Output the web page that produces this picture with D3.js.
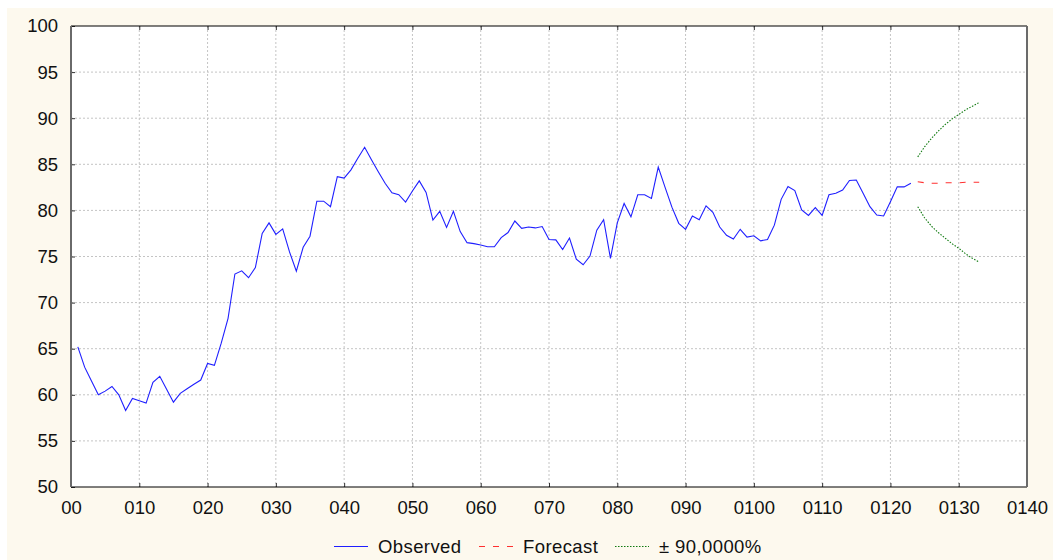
<!DOCTYPE html>
<html>
<head>
<meta charset="utf-8">
<script src="https://cdn.jsdelivr.net/npm/d3@7"></script>
<style>
  body { margin: 0; background: #ffffff; }
  svg { display: block; font-family: "Liberation Sans", Arial, sans-serif; }
</style>
</head>
<body>
<svg id="chart" width="1053" height="560"></svg>
<script>
// observed series, starting at t = 1
var observed = [
  65.2, 63.0, 61.5, 60.0, 60.4, 60.9, 60.0, 58.3, 59.6, 59.35,
  59.1, 61.35, 62.0, 60.6, 59.2, 60.15, 60.65, 61.15, 61.6, 63.4,
  63.2, 65.6, 68.3, 73.1, 73.45, 72.7, 73.8, 77.5, 78.65, 77.4,
  78.0, 75.5, 73.4, 76.0, 77.2, 81.0, 81.0, 80.4, 83.65, 83.5,
  84.4, 85.65, 86.85, 85.5, 84.2, 82.95, 81.9, 81.7, 80.9, 82.1,
  83.2, 81.95, 78.95, 79.9, 78.15, 79.9, 77.7, 76.5, 76.4, 76.25,
  76.05, 76.05, 77.05, 77.6, 78.85, 78.05, 78.2, 78.1, 78.25, 76.85,
  76.8, 75.75, 77.0, 74.7, 74.1, 75.05, 77.85, 79.0, 74.8, 78.65,
  80.75, 79.3, 81.7, 81.7, 81.3, 84.7, 82.5, 80.35, 78.6, 77.95,
  79.4, 79.0, 80.5, 79.8, 78.2, 77.3, 76.9, 77.95, 77.1, 77.25,
  76.7, 76.85, 78.4, 81.2, 82.6, 82.15, 80.05, 79.45, 80.3, 79.45,
  81.7, 81.85, 82.2, 83.25, 83.3, 81.85, 80.4, 79.5, 79.4, 80.95,
  82.55, 82.55, 82.95
];
var observedStart = 1;

// forecast + limits, t = 124 .. 133
var forecastStart = 124;
var forecast = [83.1, 83.0, 82.95, 82.95, 83.0, 83.0, 83.0, 83.05, 83.05, 83.05];
var upper    = [85.8, 86.9, 87.8, 88.6, 89.3, 89.9, 90.4, 90.9, 91.3, 91.7];
var lower    = [80.4, 79.2, 78.3, 77.6, 77.0, 76.4, 75.9, 75.3, 74.8, 74.4];

var xTicks = [0, 10, 20, 30, 40, 50, 60, 70, 80, 90, 100, 110, 120, 130, 140];
var xTickLabels = ["00", "010", "020", "030", "040", "050", "060", "070", "080", "090", "0100", "0110", "0120", "0130", "0140"];
var yTicks = [50, 55, 60, 65, 70, 75, 80, 85, 90, 95, 100];

var legendItems = [
  {title: "Observed", color: "#1f1fff", dash: null, x: 334},
  {title: "Forecast", color: "#ff3030", dash: "6,8", x: 479},
  {title: "\u00b1 90,0000%", color: "#107a10", dash: "1.5,1.5", x: 615}
];

var margin = {top: 26, right: 26, bottom: 73, left: 71};
var width = 1053 - margin.left - margin.right;
var height = 560 - margin.top - margin.bottom;

var svg = d3.select("#chart");

// cream frame
svg.append("rect")
  .attr("x", 7).attr("y", 8)
  .attr("width", 1046).attr("height", 552)
  .attr("fill", "#fdf9ee");

var g = svg.append("g")
  .attr("transform", "translate(" + margin.left + "," + margin.top + ")");

var x = d3.scaleLinear().domain([0, 140]).range([0, width]);
var y = d3.scaleLinear().domain([50, 100]).range([height, 0]);

g.append("rect")
  .attr("width", width).attr("height", height)
  .attr("fill", "#ffffff");

// dotted grid
g.append("g").selectAll("line")
  .data(xTicks.slice(1, -1))
  .join("line")
  .attr("x1", d => x(d)).attr("x2", d => x(d))
  .attr("y1", 0).attr("y2", height)
  .attr("stroke", "#c4c4c4")
  .attr("stroke-dasharray", "2,2");

g.append("g").selectAll("line")
  .data(yTicks.slice(1, -1))
  .join("line")
  .attr("x1", 0).attr("x2", width)
  .attr("y1", d => y(d)).attr("y2", d => y(d))
  .attr("stroke", "#c4c4c4")
  .attr("stroke-dasharray", "2,2");

// axes with small inward ticks
var xAxis = d3.axisBottom(x)
  .tickValues(xTicks)
  .tickFormat((d, i) => xTickLabels[i])
  .tickSizeInner(-4)
  .tickSizeOuter(0)
  .tickPadding(14);

var xAxisGroup = g.append("g")
  .attr("transform", "translate(0," + height + ")")
  .call(xAxis);

var xTop = g.append("g")
  .call(d3.axisTop(x).tickValues(xTicks).tickSizeInner(-4).tickSizeOuter(0).tickFormat(""));

var yAxis = d3.axisLeft(y)
  .tickValues(yTicks)
  .tickSizeInner(-4)
  .tickSizeOuter(0)
  .tickPadding(13);

var yAxisGroup = g.append("g").call(yAxis);

[xAxisGroup, xTop, yAxisGroup].forEach(function (ag) {
  ag.select(".domain").remove();
  ag.selectAll(".tick line").attr("stroke", "#333");
  ag.selectAll("text")
    .attr("fill", "#111")
    .style("font-size", "18.5px");
});

// frame: top and bottom black, sides grey
g.append("line").attr("x1", 0).attr("x2", width).attr("y1", 0).attr("y2", 0)
  .attr("stroke", "#000").attr("stroke-width", 1.2);
g.append("line").attr("x1", 0).attr("x2", width).attr("y1", height).attr("y2", height)
  .attr("stroke", "#000").attr("stroke-width", 1.2);
g.append("line").attr("x1", 0).attr("x2", 0).attr("y1", 0).attr("y2", height)
  .attr("stroke", "#6a6a6a").attr("stroke-width", 2);
g.append("line").attr("x1", width).attr("x2", width).attr("y1", 0).attr("y2", height)
  .attr("stroke", "#6a6a6a").attr("stroke-width", 2);

function plotSeries(values, start, colour, dash) {
  var line = d3.line()
    .x((d, i) => x(start + i))
    .y(d => y(d));
  var p = g.append("path")
    .datum(values)
    .attr("fill", "none")
    .attr("stroke", colour)
    .attr("stroke-width", 1.1)
    .attr("d", line);
  if (dash) p.attr("stroke-dasharray", dash);
}

plotSeries(observed, observedStart, legendItems[0].color, null);
plotSeries(forecast, forecastStart, legendItems[1].color, legendItems[1].dash);
plotSeries(upper, forecastStart, legendItems[2].color, legendItems[2].dash);
plotSeries(lower, forecastStart, legendItems[2].color, legendItems[2].dash);

// legend
var legend = svg.append("g");
legendItems.forEach(function (it) {
  var l = legend.append("line")
    .attr("x1", it.x).attr("x2", it.x + 34)
    .attr("y1", 546.5).attr("y2", 546.5)
    .attr("stroke", it.color)
    .attr("stroke-width", 1.1);
  if (it.dash) l.attr("stroke-dasharray", it.dash);
  legend.append("text")
    .attr("x", it.x + 44)
    .attr("y", 546.5)
    .attr("dy", "0.36em")
    .attr("fill", "#111")
    .style("font-size", "18.5px")
    .style("letter-spacing", "0.4px")
    .text(it.title);
});
</script>
</body>
</html>
